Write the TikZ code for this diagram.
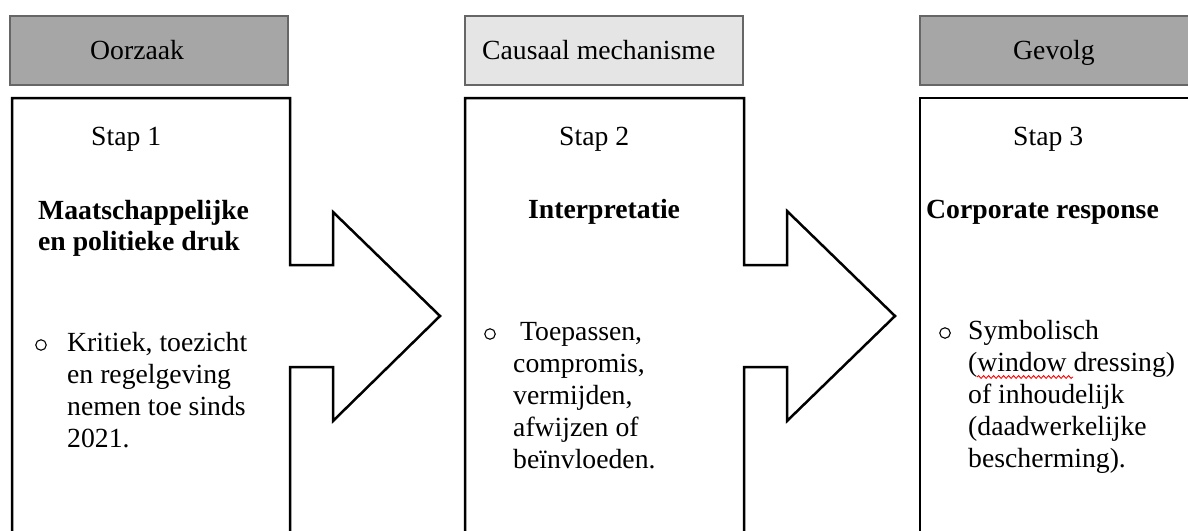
\documentclass[tikz,border=0pt]{standalone}
\usepackage{fontspec}
\setmainfont{Liberation Serif}
\usetikzlibrary{positioning,decorations.pathmorphing}

\begin{document}
\begin{tikzpicture}[
    x=1pt, y=-1pt,
    font=\fontsize{27.7}{32}\selectfont,
    % Header bars and step outlines
    header/.style={draw=black!60, line width=2pt, minimum width=278pt, minimum height=69pt, inner sep=0pt},
    stepline/.style={draw=black, line width=2.5pt, line join=miter},
    label/.style={inner sep=0pt, anchor=base west},
    % multi-line nodes: anchor is the baseline of the last line
    title/.style={label, align=left, font=\fontsize{27.7}{31}\selectfont\bfseries},
    body/.style={label, align=left},
    bulletmark/.style={circle, draw=black, line width=1.1pt, minimum size=10.5pt, inner sep=0pt},
    spellmark/.style={draw=red, line width=0.9pt, decorate, decoration={snake, amplitude=1.4pt, segment length=5pt}}
]
    \useasboundingbox (0,0) rectangle (1188,530);
    \clip (0,0) rectangle (1188,530);

    % --- Headers ---
    \node[header, fill=black!35] (hdrA) at (149,50.5) {};
    \node[header, fill=black!10] (hdrB) at (604,50) {};
    \node[header, fill=black!35] (hdrC) at (1059,50.5) {};
    \node[label] (hdrAtxt) at (90,59) {Oorzaak};
    \node[label] (hdrBtxt) at (482,59) {Causaal mechanisme};
    \node[label] (hdrCtxt) at (1013,59) {Gevolg};

    % --- Step outlines (box with arrow) ---
    \draw[stepline] (12,545) -- (12,98) -- (290,98) -- (290,265) -- (333,265) -- (333,212)
        -- (440,316) -- (333,421) -- (333,367) -- (290,367) -- (290,545);
    \draw[stepline] (465,545) -- (465,98) -- (744,98) -- (744,265) -- (787,265) -- (787,211)
        -- (895,316) -- (787,421) -- (787,367) -- (744,367) -- (744,545);
    \draw[stepline] (920,545) -- (920,98) -- (1200,98);

    % --- Step 1 ---
    \node[label] (stapA) at (91,145) {Stap 1};
    \node[title] (titleA) at (38,250) {Maatschappelijke\\en politieke druk};
    \node[bulletmark] (bulA) at (41,345) {};
    \node[body] (textA) at (67,447) {Kritiek, toezicht\\en regelgeving\\nemen toe sinds\\2021.};

    % --- Step 2 ---
    \node[label] (stapB) at (559,145) {Stap 2};
    \node[title] (titleB) at (528,218) {Interpretatie};
    \node[bulletmark] (bulB) at (490,334) {};
    \node[body] (textB) at (513,468) {\hspace*{7pt}Toepassen,\\compromis,\\vermijden,\\afwijzen of\\beïnvloeden.};

    % --- Step 3 ---
    \node[label] (stapC) at (1013,145) {Stap 3};
    \node[title] (titleC) at (926,218) {Corporate response};
    \node[bulletmark] (bulC) at (945,333) {};
    \node[body] (textC) at (968,467) {Symbolisch\\(window dressing)\\of inhoudelijk\\(daadwerkelijke\\bescherming).};
    \draw[spellmark] (977,377) -- (1073,377);

\end{tikzpicture}
\end{document}
